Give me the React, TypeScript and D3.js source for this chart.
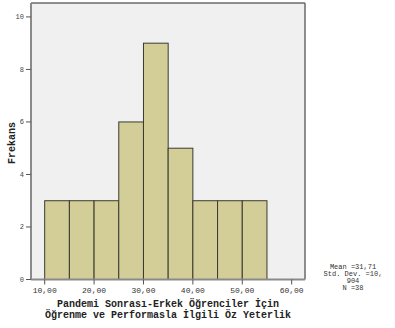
import React from "react";
import * as d3 from "d3";

const binStarts = [10, 15, 20, 25, 30, 35, 40, 45, 50];
const binWidth = 5;
const counts = [3, 3, 3, 6, 9, 5, 3, 3, 3];
const xTicks = [10, 20, 30, 40, 50, 60];
const yTicks = [0, 2, 4, 6, 8, 10];
const xTitle = ["Pandemi Sonrası-Erkek Öğrenciler İçin", "Öğrenme ve Performasla İlgili Öz Yeterlik"];
const yTitle = "Frekans";
const stats = ["Mean =31,71", "Std. Dev. =10,", "904", "N =38"];

const W = 395, H = 328;
const L = 31, R = 305, T = 3, B = 279.5;
const mono = "'Liberation Mono', 'DejaVu Sans Mono', monospace";

export default function App() {
  const x = d3.scaleLinear().domain([7.23, 62.7]).range([L, R]);
  const y = d3.scaleLinear().domain([0, 10.53]).range([B, T]);
  const fmt = (v: number) => v.toFixed(2).replace(".", ",");
  return (
    <svg width={W} height={H} style={{ position: "absolute", left: 0, top: 0 }}>
      <rect x={0} y={0} width={W} height={H} fill="#fff" />
      <rect x={L} y={T} width={R - L} height={B - T} fill="#f0f0f0" />
      {binStarts.map((s, i) => (
        <rect
          key={i}
          x={x(s)}
          y={y(counts[i])}
          width={x(s + binWidth) - x(s)}
          height={y(0) - y(counts[i])}
          fill="#d3ce97"
          stroke="#3a3a30"
          strokeWidth={1}
        />
      ))}
      {/* frame */}
      <line x1={L} y1={T} x2={R} y2={T} stroke="#6a6a6a" strokeWidth={1.5} />
      <line x1={R} y1={T} x2={R} y2={B} stroke="#6a6a6a" strokeWidth={1.5} />
      <line x1={L} y1={T} x2={L} y2={B} stroke="#8a8a8a" strokeWidth={2} />
      <line x1={L} y1={B} x2={R} y2={B} stroke="#8a8a8a" strokeWidth={2} />
      {yTicks.map((t) => (
        <g key={t}>
          <line x1={L - 5} x2={L} y1={y(t)} y2={y(t)} stroke="#555" strokeWidth={1} />
          <text x={L - 7} y={y(t)} dy="0.35em" textAnchor="end" fontFamily={mono} fontSize={7} fill="#444">
            {t}
          </text>
        </g>
      ))}
      {xTicks.map((t) => (
        <g key={t}>
          <line x1={x(t)} x2={x(t)} y1={B} y2={B + 5} stroke="#555" strokeWidth={1} />
          <text x={x(t)} y={B + 13} textAnchor="middle" fontFamily={mono} fontSize={8} fill="#333">
            {fmt(t)}
          </text>
        </g>
      ))}
      <text
        transform={`translate(15,${143}) rotate(-90)`}
        textAnchor="middle"
        fontFamily={mono}
        fontWeight="bold"
        fontSize={10}
        fill="#222"
      >
        {yTitle}
      </text>
      {xTitle.map((s, i) => (
        <text key={i} x={168} y={307 + i * 11} textAnchor="middle" fontFamily={mono} fontWeight="bold" fontSize={10} fill="#222">
          {s}
        </text>
      ))}
      {stats.map((s, i) => (
        <text key={i} x={353} y={269 + i * 7} textAnchor="middle" fontFamily={mono} fontSize={7} fill="#333">
          {s}
        </text>
      ))}
    </svg>
  );
}
